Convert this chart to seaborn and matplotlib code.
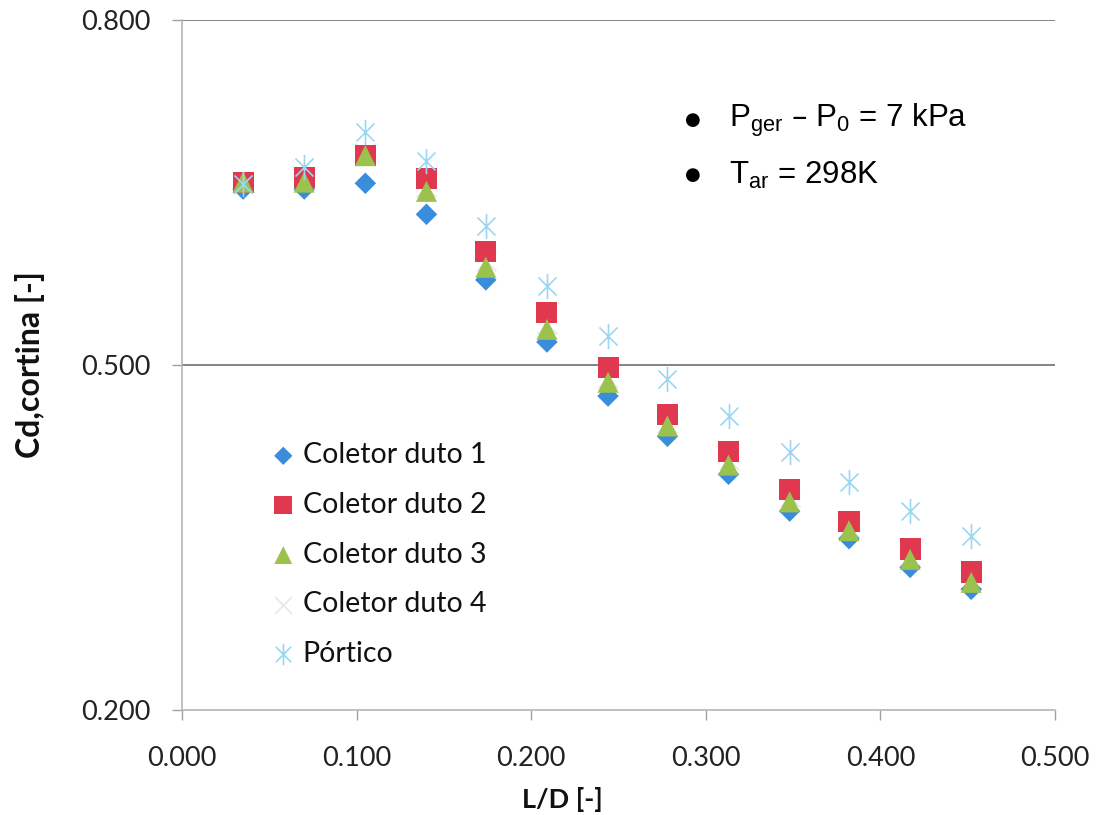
import matplotlib
matplotlib.use("Agg")
import matplotlib.pyplot as plt
from matplotlib.path import Path
import seaborn as sns
import pandas as pd

# L/D positions shared by every series
ld = [0.035, 0.070, 0.105, 0.140, 0.174, 0.209, 0.244, 0.278, 0.313, 0.348, 0.382, 0.417, 0.452]

cd_duto1 = [0.653, 0.653, 0.658, 0.631, 0.574, 0.520, 0.473, 0.438, 0.405, 0.373, 0.349, 0.324, 0.305]
cd_duto2 = [0.659, 0.663, 0.682, 0.662, 0.599, 0.546, 0.498, 0.457, 0.425, 0.392, 0.364, 0.340, 0.320]
cd_duto3 = [0.659, 0.659, 0.682, 0.651, 0.585, 0.531, 0.485, 0.447, 0.413, 0.381, 0.356, 0.331, 0.311]
cd_duto4 = [0.657, 0.661, 0.684, 0.655, 0.590, 0.536, 0.489, 0.450, 0.417, 0.385, 0.359, 0.334, 0.314]
cd_portico = [0.657, 0.672, 0.703, 0.677, 0.621, 0.569, 0.525, 0.488, 0.456, 0.424, 0.398, 0.373, 0.351]

series_names = ["Coletor duto 1", "Coletor duto 2", "Coletor duto 3", "Coletor duto 4", "Pórtico"]
series_values = [cd_duto1, cd_duto2, cd_duto3, cd_duto4, cd_portico]

x_ticks = [0.0, 0.1, 0.2, 0.3, 0.4, 0.5]
y_ticks = [0.2, 0.5, 0.8]

df = pd.DataFrame(
    [(x, y, name) for name, vals in zip(series_names, series_values) for x, y in zip(ld, vals)],
    columns=["L/D", "Cd", "serie"],
)

# asterisk marker: an x with a vertical bar through it
asterisk = Path(
    [(-0.5, -0.5), (0.5, 0.5), (-0.5, 0.5), (0.5, -0.5), (0.0, -0.7), (0.0, 0.7)],
    [Path.MOVETO, Path.LINETO, Path.MOVETO, Path.LINETO, Path.MOVETO, Path.LINETO],
)

# (marker, size, colour, edge width, drawing order)
styles = {
    "Coletor duto 1": dict(marker="D", s=120, color="#3a8ddb", linewidth=0, z=4),
    "Coletor duto 2": dict(marker="s", s=230, color="#e0384f", linewidth=0, z=5),
    "Coletor duto 3": dict(marker="^", s=230, color="#9cc24e", linewidth=0, z=6),
    "Coletor duto 4": dict(marker="x", s=200, color="#e6e6e6", linewidth=1.2, z=3),
    "Pórtico": dict(marker=asterisk, s=330, color="#9dd6f0", linewidth=1.2, z=7),
}

sns.set_theme(style="white")
plt.rcParams["font.family"] = ["Lato", "DejaVu Sans"]

fig = plt.figure(figsize=(10.99, 8.15), dpi=100)
ax = fig.add_axes([0.1656, 0.1288, 0.7944, 0.8467])

for name in series_names:
    st = styles[name]
    sub = df[df["serie"] == name]
    sns.scatterplot(
        data=sub, x="L/D", y="Cd", ax=ax, label=name,
        marker=st["marker"], s=st["s"], color=st["color"],
        linewidth=st["linewidth"], edgecolor=st["color"] if st["linewidth"] else "none",
        zorder=st["z"], legend=True,
    )

ax.set_xlim(0, 0.5)
ax.set_ylim(0.2, 0.8)
ax.set_xticks(x_ticks)
ax.set_yticks(y_ticks)
ax.set_xticklabels([f"{v:.3f}" for v in x_ticks])
ax.set_yticklabels([f"{v:.3f}" for v in y_ticks])
ax.tick_params(axis="both", labelsize=19.5, labelcolor="#222222", color="#a0a0a0",
               length=7, width=1, direction="out", left=True, bottom=True)
ax.tick_params(axis="x", pad=19)
ax.tick_params(axis="y", pad=16)

for yv in y_ticks[1:]:
    ax.axhline(yv, color="#6e6e6e", linewidth=1.2, zorder=1)

for side in ["top", "right"]:
    ax.spines[side].set_visible(False)
for side in ["left", "bottom"]:
    ax.spines[side].set_color("#b5b5b5")
    ax.spines[side].set_linewidth(1.2)

ax.set_xlabel("L/D [-]", fontsize=19.5, fontweight="bold", color="#111111", va="center")
ax.xaxis.set_label_coords(0.436, -0.13)
ax.set_ylabel("Cd,cortina [-]", fontsize=23, fontweight="bold", color="#111111", va="center")
ax.yaxis.set_label_coords(-0.174, 0.5)

leg = ax.legend(loc="upper left", bbox_to_anchor=(0.0997, 0.388), frameon=False,
                fontsize=20.5, handletextpad=0.18, labelspacing=0.83, borderaxespad=0,
                borderpad=0, handlelength=1.0, markerscale=0.85)
for t in leg.get_texts():
    t.set_color("#111111")

ann_font = dict(fontsize=22.5, color="#000000", family=["Liberation Sans", "DejaVu Sans"],
                transform=ax.transAxes, va="center")
bullet_font = dict(fontsize=13, color="#000000", family=["DejaVu Sans"],
                   transform=ax.transAxes, va="center", ha="center")
ax.text(0.5855, 0.855, "\u25cf", **bullet_font)
ax.text(0.627, 0.855, r"$\mathregular{P_{ger}}$ – $\mathregular{P_0}$ = 7 kPa", **ann_font)
ax.text(0.5855, 0.775, "\u25cf", **bullet_font)
ax.text(0.627, 0.775, r"$\mathregular{T_{ar}}$ = 298K", **ann_font)

fig.savefig("out.png", dpi=100, facecolor="white")
